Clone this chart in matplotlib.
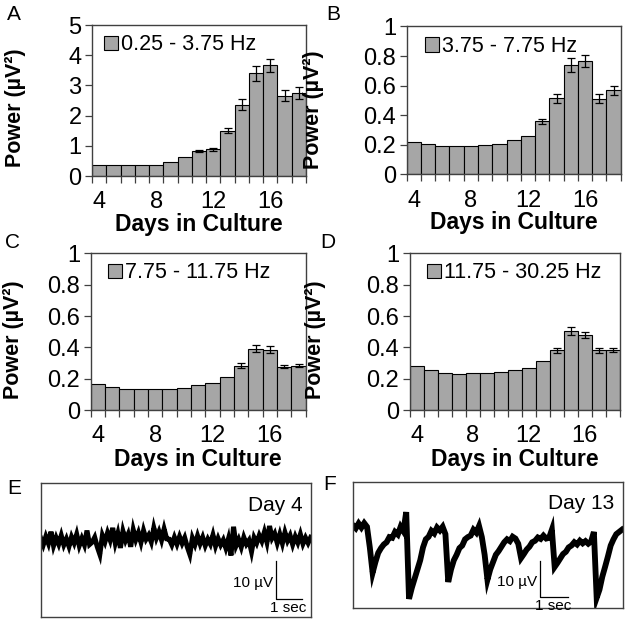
"""Power per frequency band across days in culture, with example traces."""
import matplotlib
matplotlib.use("Agg")
import matplotlib.pyplot as plt
import numpy as np
from matplotlib.patches import Patch

plt.rcParams["font.family"] = ["Liberation Sans", "DejaVu Sans"]

BAR = "#a6a6a6"
FRAME = "#404040"

days = list(range(4, 19))

band_labels = ["0.25 - 3.75 Hz", "3.75 - 7.75 Hz", "7.75 - 11.75 Hz", "11.75 - 30.25 Hz"]

power_a = [0.38, 0.35, 0.35, 0.35, 0.37, 0.47, 0.63, 0.82, 0.88, 1.50, 2.36, 3.40, 3.66, 2.66, 2.75]
err_a = [0.02, 0.01, 0.01, 0.01, 0.02, 0.03, 0.03, 0.04, 0.04, 0.09, 0.19, 0.24, 0.20, 0.19, 0.19]

power_b = [0.221, 0.203, 0.190, 0.190, 0.190, 0.196, 0.207, 0.236, 0.260, 0.358, 0.515, 0.740, 0.765, 0.512, 0.568]
err_b = [0.004, 0.003, 0.002, 0.002, 0.002, 0.003, 0.003, 0.005, 0.006, 0.014, 0.030, 0.048, 0.040, 0.032, 0.030]

power_c = [0.164, 0.149, 0.136, 0.136, 0.136, 0.136, 0.143, 0.157, 0.170, 0.208, 0.282, 0.390, 0.386, 0.277, 0.283]
err_c = [0.002, 0.002, 0.002, 0.002, 0.002, 0.002, 0.002, 0.002, 0.003, 0.004, 0.015, 0.022, 0.020, 0.011, 0.011]

power_d = [0.281, 0.255, 0.238, 0.232, 0.234, 0.236, 0.245, 0.255, 0.270, 0.313, 0.383, 0.504, 0.479, 0.381, 0.385]
err_d = [0.004, 0.003, 0.002, 0.002, 0.002, 0.002, 0.002, 0.003, 0.004, 0.006, 0.016, 0.023, 0.018, 0.018, 0.012]

ylims = [5, 1, 1, 1]
yticks = [[0, 1, 2, 3, 4, 5],
          [0, 0.2, 0.4, 0.6, 0.8, 1],
          [0, 0.2, 0.4, 0.6, 0.8, 1],
          [0, 0.2, 0.4, 0.6, 0.8, 1]]
ytick_labels = [["0", "1", "2", "3", "4", "5"],
                ["0", "0.2", "0.4", "0.6", "0.8", "1"],
                ["0", "0.2", "0.4", "0.6", "0.8", "1"],
                ["0", "0.2", "0.4", "0.6", "0.8", "1"]]
xtick_days = [4, 8, 12, 16]

trace_day4 = [0.8, -1.0, 1.2, -0.6, 2.5, -1.2, 0.9, -0.8, 1.5, -1.0,
              0.6, -1.4, 1.1, -0.5, 1.8, -1.2, 0.7, -1.0, 2.8, -0.9,
              -0.3, 1.0, -1.5, -3.5, 1.5, -0.2, 2.2, 0.3, 3.5, -0.5,
              2.0, -1.8, 2.6, 0.2, 1.8, -1.5, 3.0, 0.4, 2.2, -0.3,
              2.8, 0.5, 1.6, -0.2, 3.5, 0.8, 2.5, 0.3, 3.2, 0.6,
              0.5, -1.0, 1.0, -0.8, 1.2, -0.6, 0.9, -1.5, -3.5, 0.8,
              -0.9, 1.4, -0.7, 1.0, -1.2, 0.5, -0.8, 1.6, -1.3, 0.7,
              -1.0, 0.3, -1.8, 0.6, -3.8, 3.8, -1.2, 0.4, -1.6, 1.0,
              -0.8, 0.2, -2.8, 0.9, -0.5, 1.5, 0.0, 2.4, -0.3, 4.0,
              0.8, 2.0, -0.5, 1.8, -0.6, 2.3, 0.1, 1.5, -0.9, 1.2,
              -0.4, 1.8, -0.7, 0.9, -0.5, 1.0]
trace_day13 = [4.0, 3.2, 4.5, 3.4, 4.6, 3.6, -2.0, -8.9, -6.0, -3.5,
               -2.2, -1.2, -0.6, 0.8, 0.6, 2.2, 1.5, 3.6, 2.4, 7.6,
               -16.0, -13.0, -10.5, -8.0, -5.5, -2.0, 0.2, 0.9, 2.5, 1.8,
               3.4, 2.6, 3.6, 1.6, -11.4, -8.0, -5.5, -4.0, -2.2, -1.5,
               0.2, 0.8, 1.2, 2.8, 2.0, 3.8, 0.8, -4.0, -10.8, -8.0,
               -6.0, -4.0, -3.0, -1.8, -0.6, 0.2, -0.3, 0.9, 0.4, -1.0,
               -4.9, -3.8, -2.6, -1.8, -0.6, -0.2, 0.7, 0.3, 1.2, 0.4,
               0.6, 2.8, -7.3, -6.2, -5.0, -3.8, -3.2, -2.0, -1.5, -0.6,
               -1.2, -0.2, -0.9, -0.3, -1.0, -0.4, 2.2, -15.7, -13.5, -10.0,
               -7.3, -4.5, -1.5, 0.2, 1.6, 2.2, 2.8]

fig = plt.figure(figsize=(6.28, 6.22), dpi=100)

bar_rects = [[0.1465, 0.7170, 0.3408, 0.2428],
             [0.6476, 0.7195, 0.3408, 0.2380],
             [0.1444, 0.3408, 0.3424, 0.2519],
             [0.6524, 0.3408, 0.3344, 0.2519]]
ylab_x = [-0.31, -0.385, -0.31, -0.40]
ylab_y = [0.45, 0.44, 0.447, 0.447]
leg_x = [0.056, 0.085, 0.080, 0.083]
leg_y = [0.868, 0.865, 0.875, 0.875]
letters = ["A", "B", "C", "D"]
letter_pos = [(14, 14), (333, 14), (12, 243), (328, 243)]

series = [(power_a, err_a), (power_b, err_b), (power_c, err_c), (power_d, err_d)]

for i, (vals, errs) in enumerate(series):
    ax = fig.add_axes(bar_rects[i])
    ax.bar(days, vals, width=1.0, color=BAR, edgecolor="black", linewidth=0.8)
    shown = [j for j in range(len(days)) if errs[j] > ylims[i] * 0.006]
    ax.errorbar([days[j] for j in shown], [vals[j] for j in shown],
                yerr=[errs[j] for j in shown], fmt="none", ecolor="black",
                elinewidth=0.9, capsize=3, capthick=0.9)
    ax.set_xlim(3.5, 18.5)
    ax.set_ylim(0, ylims[i])
    ax.set_yticks(yticks[i])
    ax.set_yticklabels(ytick_labels[i])
    ax.set_xticks(xtick_days)
    ax.set_xticks(np.arange(3.5, 19, 1.0), minor=True)
    ax.tick_params(axis="x", which="major", length=0, pad=11, labelsize=17)
    ax.tick_params(axis="x", which="minor", length=5, width=0.9, direction="out", color=FRAME)
    ax.tick_params(axis="y", length=5, width=0.9, direction="out", pad=2.5, labelsize=17, color=FRAME)
    for s in ax.spines.values():
        s.set_color(FRAME)
        s.set_linewidth(1.0)
    ax.set_ylabel("Power (µV²)", fontsize=15.5, fontweight="bold")
    ax.yaxis.set_label_coords(ylab_x[i], ylab_y[i])
    ax.set_xlabel("Days in Culture", fontsize=16.5, fontweight="bold")
    ax.xaxis.set_label_coords(0.5, -0.245)
    ax.legend(handles=[Patch(facecolor=BAR, edgecolor="black", linewidth=0.8)],
              labels=[band_labels[i]], loc="center left",
              bbox_to_anchor=(leg_x[i], leg_y[i]), frameon=False, borderpad=0,
              borderaxespad=0, handlelength=0.65, handleheight=0.65,
              handletextpad=0.15, fontsize=15.5)
    fig.text(letter_pos[i][0] / 628, 1 - letter_pos[i][1] / 622, letters[i],
             fontsize=15, ha="center", va="center")

# traces
trace_rects = [[0.0648, 0.0085, 0.4299, 0.2145],
               [0.5621, 0.0230, 0.4295, 0.2016]]
traces = [trace_day4, trace_day13]
trace_lw = [3.6, 4.2]
durations = [10.5, 9.6]
xlims = [(0, 10.5), (0, 9.63)]
trace_ylims = [(-20.0, 15.3), (-18.4, 15.7)]
day_text = ["Day 4", "Day 13"]
bar_x = [9.16, 6.68]
bar_y = [-15.3, -15.6]
trace_letters = ["E", "F"]
trace_letter_pos = [(14, 488), (330, 485)]

for i, tr in enumerate(traces):
    ax = fig.add_axes(trace_rects[i])
    t = np.linspace(0, durations[i], len(tr))
    ax.plot(t, tr, color="black", linewidth=trace_lw[i], solid_joinstyle="miter")
    ax.set_xlim(*xlims[i])
    ax.set_ylim(*trace_ylims[i])
    ax.set_xticks([])
    ax.set_yticks([])
    for s in ax.spines.values():
        s.set_color(FRAME)
        s.set_linewidth(1.0)
    ax.text(0.97, 0.83, day_text[i], transform=ax.transAxes, ha="right",
            va="center", fontsize=15)
    bx, by = bar_x[i], bar_y[i]
    ax.plot([bx, bx, bx + 1], [by + 10, by, by], color="black", linewidth=0.9)
    ax.text(bx - 0.12, by + 4.3, "10 µV", ha="right", va="center", fontsize=11)
    ax.text(bx + 0.45, by - 0.5, "1 sec", ha="center", va="top", fontsize=11)
    fig.text(trace_letter_pos[i][0] / 628, 1 - trace_letter_pos[i][1] / 622,
             trace_letters[i], fontsize=15, ha="center", va="center")

fig.savefig("out.png", dpi=100, facecolor="white")
